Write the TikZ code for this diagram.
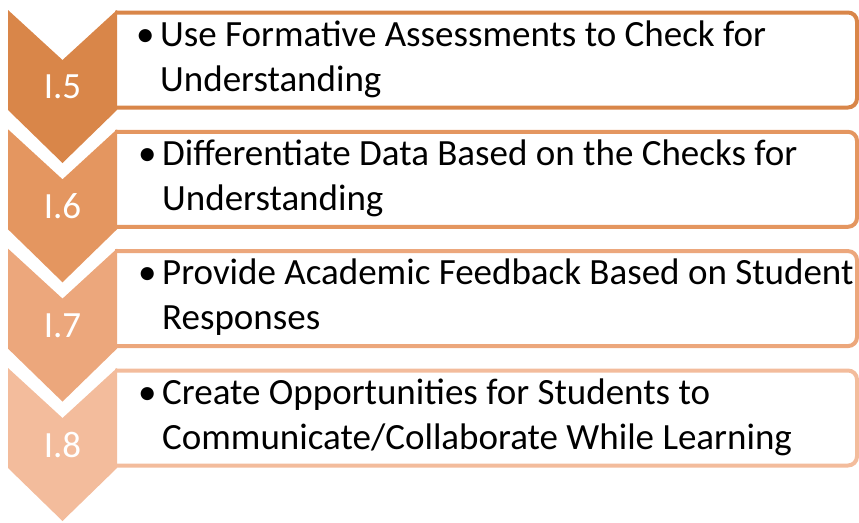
\documentclass[tikz,border=0pt]{standalone}
\usepackage{fontspec}
\setmainfont{Carlito}
\definecolor{oA}{HTML}{D98649}
\definecolor{oB}{HTML}{E49660}
\definecolor{oC}{HTML}{ECA77C}
\definecolor{oD}{HTML}{F3BC9C}
\begin{document}
\begin{tikzpicture}[x=1pt, y=-1pt,
      B/.style={draw=#1, line width=4pt, fill=white, rounded corners=9pt},
      V/.style={fill=#1},
      N/.style={text=white, inner sep=0pt, font=\fontsize{37}{37}\selectfont},
      T/.style={anchor=west, align=left, inner sep=0pt, font=\fontsize{37}{45}\selectfont}
    ]
    \useasboundingbox (0,0) rectangle (859,522);
    % I.5
    \draw [B=oA] (115,12.5) -- (857,12.5) -- (857,107.5) -- (115,107.5);
    \fill [V=oA] (8,10) -- (62.5,60) -- (117,10) -- (117,110) -- (62.5,163) -- (8,110) -- cycle;
    \node [N] (n5) at (62.5,87) {I.5};
    \node [T] (t5) at (136,59) {\makebox[24pt][l]{\textbullet}Use Formative Assessments to Check for\\\hspace*{24pt}Understanding};
    % I.6
    \draw [B=oB] (115,131.8) -- (857,131.8) -- (857,226.8) -- (115,226.8);
    \fill [V=oB] (8,129.3) -- (62.5,179.3) -- (117,129.3) -- (117,229.3) -- (62.5,282.3) -- (8,229.3) -- cycle;
    \node [N] (n6) at (62.5,206.3) {I.6};
    \node [T] (t6) at (138,178.3) {\makebox[24pt][l]{\textbullet}Differentiate Data Based on the Checks for\\\hspace*{24pt}Understanding};
    % I.7
    \draw [B=oC] (115,251.1) -- (857,251.1) -- (857,346.1) -- (115,346.1);
    \fill [V=oC] (8,248.6) -- (62.5,298.6) -- (117,248.6) -- (117,348.6) -- (62.5,401.6) -- (8,348.6) -- cycle;
    \node [N] (n7) at (62.5,325.6) {I.7};
    \node [T] (t7) at (138,297.6) {\makebox[24pt][l]{\textbullet}Provide Academic Feedback Based on Student\\\hspace*{24pt}Responses};
    % I.8
    \draw [B=oD] (115,370.5) -- (857,370.5) -- (857,465.5) -- (115,465.5);
    \fill [V=oD] (8,368) -- (62.5,418) -- (117,368) -- (117,468) -- (62.5,521) -- (8,468) -- cycle;
    \node [N] (n8) at (62.5,445) {I.8};
    \node [T] (t8) at (138,417) {\makebox[24pt][l]{\textbullet}Create Opportunities for Students to\\\hspace*{24pt}Communicate/Collaborate While Learning};
  \end{tikzpicture}
\end{document}
